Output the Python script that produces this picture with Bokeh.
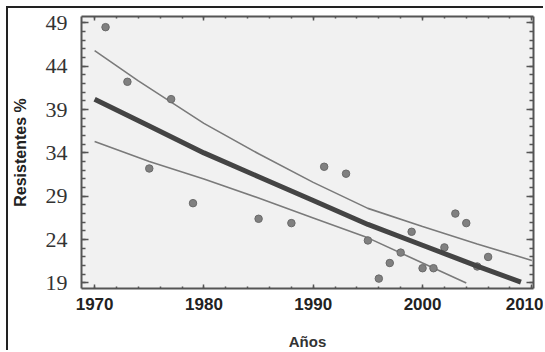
from bokeh.plotting import figure
from bokeh.models import FixedTicker, LinearAxis, Range1d, CustomJSTickFormatter, InlineStyleSheet
from bokeh.embed import file_html
from bokeh.resources import INLINE

# observed data
years = [1971, 1973, 1975, 1977, 1979, 1985, 1988, 1991, 1993, 1995, 1996,
         1997, 1998, 1999, 2000, 2001, 2002, 2003, 2004, 2005, 2006]
resist = [48.5, 42.2, 32.2, 40.2, 28.2, 26.4, 25.9, 32.4, 31.6, 23.9, 19.5,
          21.3, 22.5, 24.9, 20.7, 20.7, 23.1, 27.0, 25.9, 20.9, 22.0]

# fitted line and confidence limits
fit_years = [1970, 1975, 1980, 1985, 1990, 1995, 2000, 2005, 2009]
fit_vals = [40.2, 37.1, 34.0, 31.25, 28.5, 25.75, 23.35, 20.95, 19.1]
upper_years = [1970, 1974, 1980, 1985, 1990, 1995, 2000, 2005, 2010]
upper_vals = [45.8, 42.3, 37.4, 33.9, 30.6, 27.6, 25.5, 23.5, 21.6]
lower_years = [1970, 1975, 1980, 1985, 1990, 1995, 2000, 2004]
lower_vals = [35.3, 33.0, 31.0, 28.8, 26.5, 24.2, 21.3, 19.0]

x_ticks = [1970, 1980, 1990, 2000, 2010]
x_minor = list(range(1968, 2012, 2))
y_ticks = [19, 24, 29, 34, 39, 44, 49]
y_minor = list(range(18, 51))

p = figure(width=537, height=344,
           x_range=Range1d(1968.8, 2010.15), y_range=Range1d(18.36, 49.73),
           output_backend="svg", toolbar_location=None,
           min_border_left=73, min_border_right=12, min_border_top=8, min_border_bottom=56,
           background_fill_color="#f1f1f1", border_fill_color="white")
p.stylesheets = [InlineStyleSheet(css=":host { margin-left: 6px; margin-top: 6px; "
                                      "border-left: 2px solid #222; border-top: 2px solid #222; }")]
p.outline_line_color = None
p.xgrid.visible = False
p.ygrid.visible = False

p.line(upper_years, upper_vals, line_color="#7a7a7a", line_width=1.6)
p.line(lower_years, lower_vals, line_color="#7a7a7a", line_width=1.6)
p.scatter(years, resist, size=7.5, fill_color="#808080", line_color="#6a6a6a", line_width=1)
p.line(fit_years, fit_vals, line_color="#444444", line_width=5)

def style_axis(ax, major_in, minor_in):
    ax.axis_line_color = "#555555"
    ax.axis_line_width = 2
    ax.major_tick_in = major_in
    ax.major_tick_out = 0
    ax.minor_tick_in = minor_in
    ax.minor_tick_out = 0
    ax.major_tick_line_color = "#555555"
    ax.minor_tick_line_color = "#555555"
    ax.major_tick_line_width = 1.5
    ax.minor_tick_line_width = 1.5

xa = p.xaxis[0]
xa.ticker = FixedTicker(ticks=x_ticks, minor_ticks=x_minor)
style_axis(xa, 4, 2)
xa.major_label_text_font = "Liberation Sans"
xa.major_label_text_font_style = "bold"
xa.major_label_text_font_size = "17px"
xa.major_label_text_color = "#222222"
xa.major_label_standoff = 9
xa.axis_label = "Años"
xa.axis_label_text_font = "Liberation Sans"
xa.axis_label_text_font_style = "bold"
xa.axis_label_text_font_size = "15px"
xa.axis_label_text_color = "#333333"
xa.axis_label_standoff = 20

ya = p.yaxis[0]
ya.ticker = FixedTicker(ticks=y_ticks, minor_ticks=y_minor)
style_axis(ya, 7, 4)
ya.major_label_text_font = "Liberation Sans Narrow"
ya.major_label_text_font_size = "22px"
ya.major_label_text_color = "#333333"
ya.major_label_standoff = 14
ya.axis_label = "Resistentes %"
ya.axis_label_text_font = "Liberation Sans"
ya.axis_label_text_font_style = "bold"
ya.axis_label_text_font_size = "16px"
ya.axis_label_text_color = "#222222"
ya.axis_label_standoff = 14

blank = CustomJSTickFormatter(code="return '';")
top = LinearAxis(ticker=FixedTicker(ticks=x_ticks, minor_ticks=x_minor),
                 formatter=blank, major_label_standoff=0)
style_axis(top, 4, 2)
p.add_layout(top, "above")
right = LinearAxis(ticker=FixedTicker(ticks=y_ticks, minor_ticks=y_minor),
                   formatter=blank, major_label_standoff=0)
style_axis(right, 7, 4)
p.add_layout(right, "right")

open("out.html", "w").write(file_html(p, INLINE))
